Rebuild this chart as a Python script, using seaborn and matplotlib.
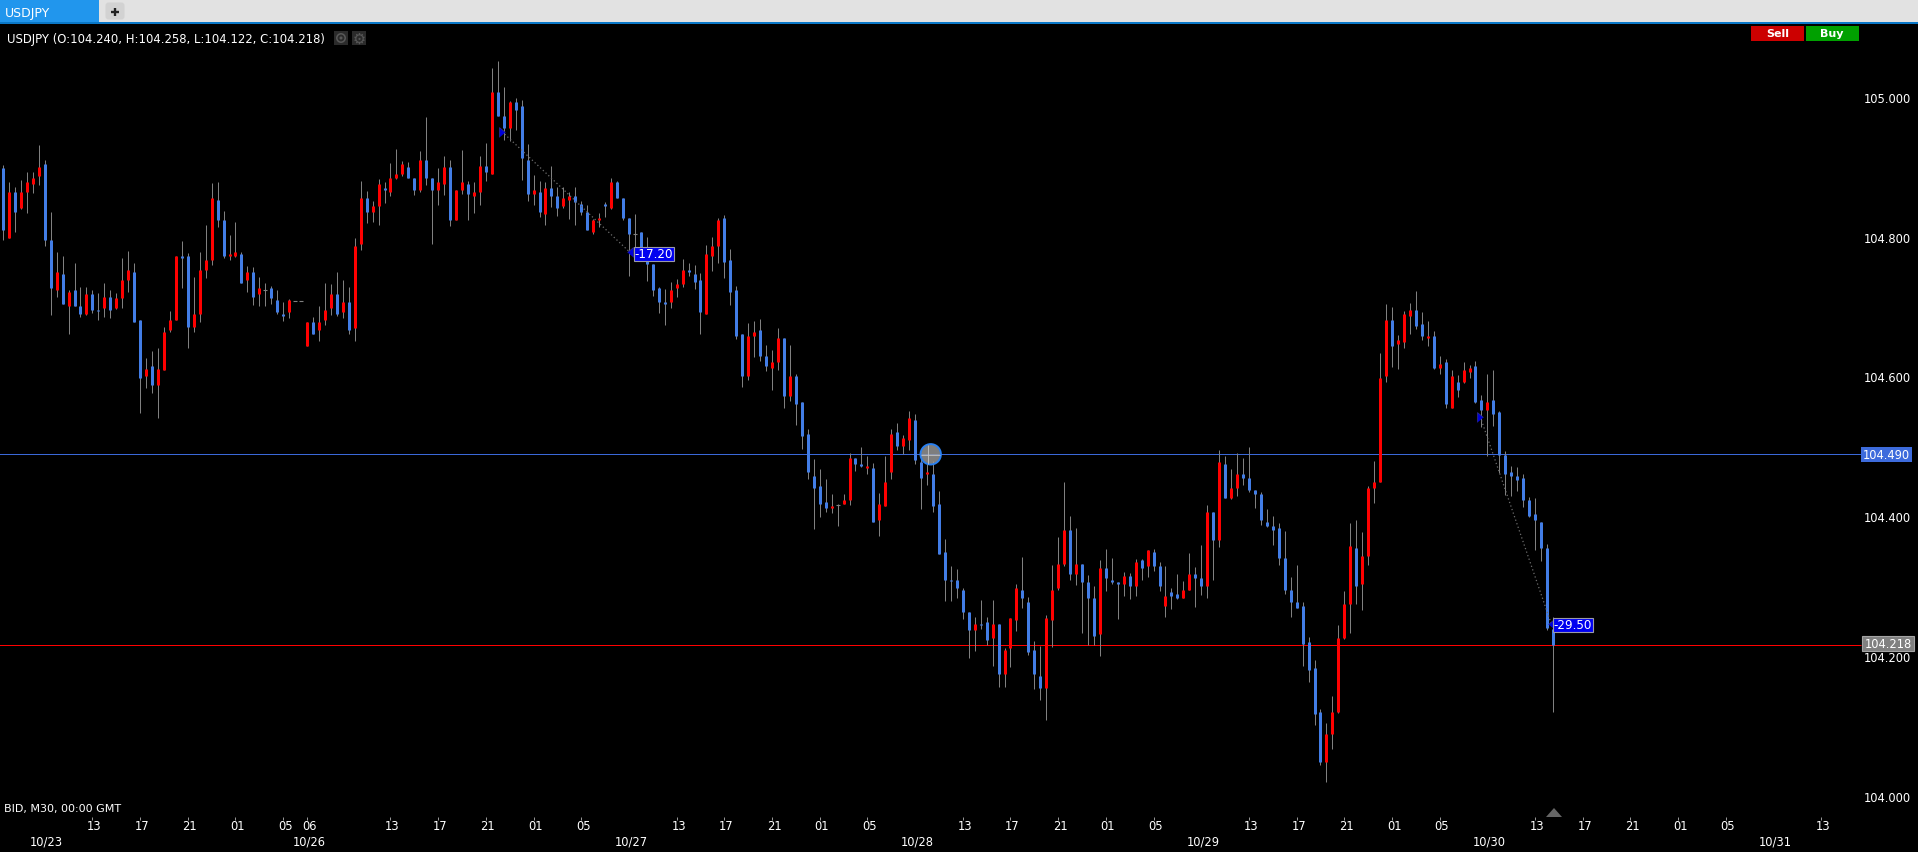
import matplotlib
matplotlib.use("Agg")
import matplotlib.pyplot as plt
from matplotlib.patches import Rectangle, Circle, Polygon, FancyBboxPatch
from matplotlib.transforms import ScaledTranslation
import numpy as np
import pandas as pd
import seaborn as sns

# Candles, 30 minute bars
opens = [
    104.900,104.799,104.865,104.842,104.865,104.877,104.888,104.905,104.797,104.725,
    104.748,104.702,104.725,104.702,104.691,104.719,104.696,104.699,104.716,104.699,
    104.714,104.739,104.751,104.682,104.602,104.616,104.590,104.611,104.668,104.682,
    104.774,104.774,104.673,104.691,104.754,104.768,104.854,104.825,104.774,104.774,
    104.777,104.739,104.751,104.719,104.726,104.728,104.711,104.691,104.694,104.710,
    104.710,104.645,104.679,104.668,104.682,104.699,104.719,104.694,104.708,104.671,
    104.791,104.857,104.837,104.845,104.871,104.865,104.885,104.891,104.902,104.885,
    104.868,104.911,104.885,104.868,104.877,104.902,104.825,104.868,104.877,104.860,
    104.865,104.903,104.891,105.009,104.974,104.957,104.994,104.989,104.911,104.863,
    104.865,104.834,104.871,104.860,104.845,104.854,104.860,104.848,104.837,104.808,
    104.825,104.848,104.843,104.880,104.857,104.828,104.806,104.808,104.782,104.762,
    104.728,104.708,104.708,104.728,104.734,104.754,104.748,104.740,104.691,104.774,
    104.788,104.828,104.768,104.725,104.662,104.602,104.659,104.668,104.631,104.614,
    104.622,104.657,104.574,104.602,104.565,104.519,104.459,104.445,104.422,104.413,
    104.418,104.419,104.425,104.485,104.476,104.471,104.471,104.396,104.416,104.465,
    104.522,104.502,104.511,104.539,104.479,104.462,104.462,104.419,104.350,104.310,
    104.310,104.296,104.265,104.239,104.247,104.250,104.227,104.247,104.176,104.213,
    104.253,104.296,104.279,104.210,104.173,104.156,104.253,104.299,104.333,104.382,
    104.319,104.333,104.308,104.285,104.233,104.328,104.310,104.308,104.305,104.316,
    104.302,104.339,104.330,104.350,104.330,104.273,104.293,104.290,104.285,104.296,
    104.319,104.313,104.302,104.408,104.368,104.476,104.428,104.442,104.462,104.456,
    104.439,104.433,104.393,104.388,104.385,104.342,104.296,104.279,104.273,104.222,
    104.184,104.121,104.050,104.090,104.121,104.227,104.276,104.356,104.305,104.345,
    104.442,104.451,104.602,104.682,104.648,104.651,104.688,104.697,104.677,104.657,
    104.660,104.614,104.622,104.557,104.594,104.594,104.608,104.617,104.568,104.554,
    104.568,104.551,104.489,104.465,104.459,104.456,104.425,104.405,104.393,104.356,
    104.240]
highs = [
    104.904,104.880,104.872,104.882,104.894,104.894,104.933,104.912,104.837,104.779,
    104.774,104.726,104.764,104.729,104.729,104.726,104.721,104.736,104.725,104.721,
    104.771,104.781,104.764,104.682,104.628,104.638,104.643,104.673,104.695,104.774,
    104.795,104.778,104.744,104.779,104.818,104.878,104.880,104.839,104.804,104.822,
    104.779,104.759,104.758,104.744,104.736,104.731,104.725,104.708,104.712,104.710,
    104.710,104.679,104.686,104.702,104.736,104.734,104.751,104.739,104.729,104.799,
    104.881,104.867,104.852,104.884,104.880,104.907,104.927,104.910,104.908,104.885,
    104.924,104.973,104.885,104.900,104.917,104.912,104.868,104.925,104.881,104.880,
    104.917,104.936,105.043,105.053,105.016,104.996,105.000,104.997,104.934,104.890,
    104.881,104.880,104.903,104.873,104.873,104.865,104.873,104.853,104.847,104.827,
    104.835,104.851,104.886,104.881,104.857,104.828,104.834,104.808,104.801,104.762,
    104.729,104.727,104.737,104.741,104.770,104.764,104.761,104.750,104.790,104.801,
    104.828,104.833,104.784,104.731,104.662,104.678,104.681,104.684,104.647,104.639,
    104.671,104.657,104.647,104.605,104.565,104.527,104.484,104.469,104.455,104.433,
    104.419,104.433,104.492,104.485,104.501,104.488,104.478,104.435,104.488,104.527,
    104.535,104.518,104.552,104.548,104.490,104.477,104.481,104.438,104.369,104.330,
    104.326,104.299,104.265,104.257,104.282,104.257,104.282,104.247,104.213,104.256,
    104.305,104.343,104.286,104.223,104.216,104.260,104.332,104.372,104.451,104.402,
    104.385,104.333,104.318,104.302,104.339,104.355,104.342,104.308,104.322,104.320,
    104.340,104.340,104.353,104.355,104.336,104.330,104.299,104.319,104.309,104.349,
    104.329,104.361,104.418,104.408,104.496,104.488,104.469,104.492,104.485,104.501,
    104.439,104.436,104.412,104.402,104.392,104.381,104.315,104.332,104.279,104.229,
    104.196,104.126,104.106,104.144,104.246,104.295,104.392,104.396,104.379,104.445,
    104.481,104.635,104.705,104.701,104.661,104.695,104.707,104.724,104.694,104.681,
    104.667,104.631,104.627,104.611,104.604,104.622,104.618,104.624,104.575,104.605,
    104.611,104.552,104.495,104.474,104.472,104.462,104.429,104.428,104.393,104.362,
    104.258]
lows = [
    104.797,104.799,104.808,104.841,104.835,104.864,104.875,104.788,104.689,104.716,
    104.705,104.663,104.702,104.686,104.689,104.692,104.682,104.686,104.685,104.698,
    104.699,104.722,104.679,104.549,104.585,104.578,104.542,104.611,104.665,104.682,
    104.728,104.642,104.665,104.679,104.742,104.761,104.815,104.771,104.768,104.772,
    104.736,104.722,104.704,104.702,104.702,104.705,104.691,104.681,104.685,104.710,
    104.710,104.645,104.662,104.652,104.675,104.689,104.688,104.685,104.662,104.652,
    104.782,104.821,104.822,104.818,104.850,104.860,104.884,104.888,104.885,104.861,
    104.865,104.875,104.791,104.847,104.861,104.817,104.825,104.862,104.825,104.835,
    104.847,104.881,104.891,104.974,104.940,104.938,104.954,104.883,104.853,104.847,
    104.830,104.818,104.844,104.831,104.843,104.827,104.818,104.833,104.811,104.805,
    104.815,104.830,104.841,104.857,104.825,104.745,104.778,104.773,104.738,104.717,
    104.692,104.675,104.699,104.715,104.729,104.745,104.727,104.662,104.691,104.752,
    104.764,104.742,104.704,104.655,104.586,104.596,104.629,104.624,104.609,104.582,
    104.611,104.556,104.566,104.532,104.498,104.455,104.383,104.401,104.408,104.406,
    104.388,104.419,104.418,104.466,104.472,104.462,104.393,104.373,104.416,104.455,
    104.496,104.491,104.496,104.476,104.412,104.446,104.408,104.348,104.280,104.280,
    104.285,104.255,104.199,104.209,104.240,104.218,104.187,104.157,104.157,104.186,
    104.237,104.270,104.203,104.154,104.139,104.110,104.215,104.296,104.330,104.310,
    104.303,104.235,104.218,104.218,104.202,104.295,104.305,104.255,104.288,104.283,
    104.288,104.310,104.315,104.323,104.295,104.257,104.269,104.283,104.285,104.296,
    104.272,104.289,104.285,104.310,104.358,104.428,104.426,104.431,104.446,104.436,
    104.413,104.389,104.386,104.361,104.332,104.290,104.257,104.270,104.187,104.164,
    104.103,104.046,104.021,104.069,104.120,104.226,104.235,104.276,104.267,104.332,
    104.421,104.451,104.594,104.615,104.612,104.642,104.662,104.670,104.654,104.645,
    104.612,104.605,104.557,104.557,104.572,104.592,104.599,104.564,104.529,104.488,
    104.531,104.463,104.432,104.431,104.438,104.415,104.401,104.353,104.338,104.239,
    104.122]
closes = [
    104.811,104.865,104.837,104.865,104.880,104.885,104.902,104.797,104.728,104.751,
    104.705,104.722,104.702,104.691,104.719,104.696,104.695,104.716,104.696,104.714,
    104.739,104.754,104.679,104.599,104.613,104.590,104.613,104.665,104.682,104.774,
    104.771,104.673,104.691,104.754,104.768,104.857,104.825,104.774,104.777,104.779,
    104.736,104.751,104.716,104.728,104.726,104.714,104.694,104.688,104.711,104.710,
    104.710,104.679,104.662,104.679,104.696,104.719,104.691,104.708,104.668,104.788,
    104.857,104.837,104.845,104.877,104.868,104.885,104.891,104.905,104.885,104.868,
    104.911,104.885,104.868,104.880,104.902,104.825,104.868,104.880,104.862,104.865,
    104.903,104.894,105.009,104.974,104.957,104.994,104.983,104.914,104.863,104.868,
    104.837,104.871,104.860,104.843,104.857,104.860,104.851,104.837,104.811,104.825,
    104.828,104.845,104.880,104.857,104.828,104.805,104.806,104.782,104.762,104.725,
    104.708,104.705,104.725,104.734,104.754,104.751,104.737,104.694,104.777,104.788,
    104.825,104.765,104.722,104.659,104.602,104.659,104.665,104.631,104.616,104.622,
    104.657,104.574,104.602,104.562,104.516,104.465,104.442,104.419,104.413,104.416,
    104.418,104.425,104.485,104.476,104.474,104.474,104.393,104.419,104.451,104.519,
    104.502,104.514,104.542,104.482,104.456,104.465,104.416,104.348,104.310,104.309,
    104.299,104.265,104.239,104.247,104.246,104.225,104.247,104.176,104.210,104.256,
    104.299,104.285,104.207,104.176,104.156,104.256,104.296,104.333,104.382,104.319,
    104.333,104.308,104.285,104.230,104.328,104.313,104.308,104.305,104.316,104.302,
    104.336,104.328,104.353,104.330,104.302,104.288,104.288,104.285,104.296,104.319,
    104.313,104.302,104.408,104.368,104.479,104.428,104.442,104.462,104.456,104.439,
    104.433,104.396,104.388,104.382,104.342,104.296,104.279,104.270,104.219,104.182,
    104.119,104.050,104.090,104.121,104.227,104.276,104.359,104.302,104.345,104.442,
    104.451,104.599,104.682,104.645,104.654,104.691,104.697,104.674,104.660,104.660,
    104.614,104.619,104.562,104.602,104.582,104.611,104.614,104.565,104.554,104.565,
    104.548,104.489,104.462,104.459,104.453,104.425,104.402,104.396,104.356,104.242,
    104.218]

# Axis labels
price_ticks = [104.0, 104.2, 104.4, 104.6, 104.8, 105.0]
price_labels = ["104.000", "104.200", "104.400", "104.600", "104.800", "105.000"]
hour_bars = [15, 23, 31, 39, 47, 51, 65, 73, 81, 89, 97, 113, 121, 129, 137, 145,
             161, 169, 177, 185, 193, 209, 217, 225, 233, 241, 257, 265, 273, 281, 289, 305]
hour_labels = ["13", "17", "21", "01", "05", "06", "13", "17", "21", "01", "05",
               "13", "17", "21", "01", "05", "13", "17", "21", "01", "05",
               "13", "17", "21", "01", "05", "13", "17", "21", "01", "05", "13"]
date_bars = [7, 51, 105, 153, 201, 249, 297]
date_labels = ["10/23", "10/26", "10/27", "10/28", "10/29", "10/30", "10/31"]

# Horizontal levels and the two closed trades
level_prices = [104.490, 104.218]
level_colors = ["#3a68d8", "#ff0000"]
trade_start_bar = [83.7, 247.8]
trade_start_price = [104.952, 104.544]
trade_end_bar = [105.2, 259.7]
trade_end_price = [104.779, 104.248]
trade_results = ["-17.20", "-29.50"]

BLUE = "#427de6"
RED = "#ff0000"
WICK = "#808080"
WIDTH, HEIGHT = 1918, 853
BAR_PX, BAR0_PX = 6 - 1 / 26, 2.98   # bar spacing on the screen
PX_PER_UNIT, Y104_PX = 699.0, 798.0
FONT = 8.3

sns.set_theme(style="dark", rc={"axes.facecolor": "black", "figure.facecolor": "black",
                                "axes.grid": False, "lines.solid_capstyle": "butt"})
plt.rcParams["font.family"] = ["DejaVu Sans"]

bars = pd.DataFrame({"bar": np.arange(len(opens)), "open": opens, "high": highs,
                     "low": lows, "close": closes})
bars["side"] = np.where(bars["close"] > bars["open"], "up", "down")

wicks = bars.melt(id_vars=["bar"], value_vars=["high", "low"], value_name="price")
bodies = bars.melt(id_vars=["bar", "side"], value_vars=["open", "close"], value_name="price")
flat = bars[bars["open"] == bars["close"]]

fig = plt.figure(figsize=(WIDTH / 100, HEIGHT / 100), dpi=100, facecolor="black")
ax = fig.add_axes([0, (HEIGHT - 818) / HEIGHT, 1, (818 - 24) / HEIGHT])

# Price levels sit under the candles
for price, col in zip(level_prices, level_colors):
    level = pd.DataFrame({"bar": [-1, (1861 - BAR0_PX) / BAR_PX], "price": [price, price]})
    sns.lineplot(data=level, x="bar", y="price", color=col, linewidth=0.72, legend=False, ax=ax, zorder=1)

sns.lineplot(data=wicks, x="bar", y="price", units="bar", estimator=None, color=WICK,
             linewidth=0.72, legend=False, ax=ax, zorder=2)
sns.lineplot(data=bodies, x="bar", y="price", units="bar", estimator=None, hue="side",
             palette={"up": RED, "down": BLUE}, linewidth=2.16, legend=False, ax=ax, zorder=3)
sns.scatterplot(data=flat, x="bar", y="close", marker="_", color=WICK, s=9, linewidth=0.8,
                legend=False, ax=ax, zorder=3)

# Trade arrows
for i in range(2):
    trade = pd.DataFrame({"bar": [trade_start_bar[i], trade_end_bar[i]],
                          "price": [trade_start_price[i], trade_end_price[i]]})
    sns.lineplot(data=trade, x="bar", y="price", color="#6e6e6e", linewidth=0.9,
                 linestyle=(0, (1, 2)), legend=False, ax=ax, zorder=4)
sns.scatterplot(x=trade_start_bar, y=trade_start_price, marker=[(-0.6, -1), (-0.6, 1), (0.6, 0)],
                color="#0000d8", edgecolor="#303090", linewidth=0.5, s=50, legend=False, ax=ax, zorder=5)
sns.scatterplot(x=trade_end_bar, y=trade_end_price, marker=[(0.6, -1), (0.6, 1), (-0.6, 0)],
                color="#0000d8", edgecolor="#303090", linewidth=0.5, s=50, legend=False, ax=ax, zorder=5)

ax.set_xlim(-BAR0_PX / BAR_PX, (WIDTH - BAR0_PX) / BAR_PX)
ax.set_ylim(104 - (818 - Y104_PX) / PX_PER_UNIT, 104 + (Y104_PX - 24) / PX_PER_UNIT)
ax.set(xlabel="", ylabel="")
sns.despine(ax=ax, left=True, bottom=True)

ax.yaxis.tick_right()
ax.set_yticks(price_ticks, price_labels)
ax.tick_params(axis="y", length=0, pad=-5, labelsize=FONT, labelcolor="white")
up_one = ScaledTranslation(0, 1.2 / 100, fig.dpi_scale_trans)
for lab in ax.get_yticklabels():
    lab.set_ha("right")
    lab.set_transform(lab.get_transform() + up_one)

ax.xaxis.remove_overlapping_locs = False
ax.set_xticks(hour_bars, hour_labels)
ax.set_xticks(date_bars, date_labels, minor=True)
ax.tick_params(axis="x", which="major", bottom=True, direction="out", length=2.2, width=0.7,
               color="#9a9a9a", pad=-0.7, labelsize=FONT, labelcolor="white")
ax.tick_params(axis="x", which="minor", bottom=True, length=0, pad=12.4,
               labelsize=FONT, labelcolor="white")
# labels sit a little to the right of their ticks
shift = ScaledTranslation(2 / 100, 0, fig.dpi_scale_trans)
for lab in ax.get_xticklabels() + ax.get_xticklabels(minor=True):
    lab.set_transform(lab.get_transform() + shift)

# Window furniture, drawn in screen pixels
ui = fig.add_axes([0, 0, 1, 1], facecolor="none")
ui.set_xlim(0, WIDTH)
ui.set_ylim(HEIGHT - 1, -1)
ui.axis("off")

def box(x0, y0, x1, y1, face, edge="none", lw=0.0, z=2):
    ui.add_patch(Rectangle((x0, y0), x1 - x0, y1 - y0, facecolor=face, edgecolor=edge, linewidth=lw, zorder=z))

box(0, -1, WIDTH, 0, "#cdb26c")
box(0, 0, WIDTH, 22, "#e2e2e2")
box(0, 22, WIDTH, 24, "#0a78c8")
box(0, 0, 99, 22, "#2196ed", z=3)
ui.text(5, 12.5, "USDJPY", color="white", fontsize=9.0, va="center", zorder=4)
ui.add_patch(FancyBboxPatch((108, 5), 14, 12, boxstyle="round,pad=2.5,rounding_size=3",
                            facecolor="#d2d2d2", edgecolor="none", zorder=3))
ui.plot([115, 115], [7.5, 15.5], color="#222222", linewidth=1.7, zorder=4)
ui.plot([111, 119], [11.5, 11.5], color="#222222", linewidth=1.7, zorder=4)

ui.text(7, 38, "USDJPY (O:104.240, H:104.258, L:104.122, C:104.218)", color="white",
        fontsize=8.42, va="center", zorder=4)
box(334, 31, 348, 45, "#2b2b2b")
box(352, 31, 366, 45, "#2b2b2b")
ui.add_patch(Circle((341, 38), 4.2, facecolor="none", edgecolor="#585858", linewidth=1.1, zorder=4))
ui.add_patch(Circle((341, 38), 1.5, facecolor="#585858", edgecolor="none", zorder=4))
ui.text(359, 38, "\u2699", color="#585858", fontsize=10.5, ha="center", va="center", zorder=4)

box(1751, 26, 1804, 41, "#cc0000")
box(1806, 26, 1859, 41, "#00a000")
ui.text(1777.5, 33, "Sell", color="white", fontsize=8, fontweight="bold", ha="center", va="center", zorder=4)
ui.text(1832, 33, "Buy", color="white", fontsize=8, fontweight="bold", ha="center", va="center", zorder=4)

# Price boxes on the right
box(1861, 447, 1912, 462, "#3d6bdc")
ui.text(1886.5, 454.5, "104.490", color="white", fontsize=FONT, ha="center", va="center", zorder=4)
box(1862, 636, 1914, 651, "#808080", edge="#a4a4a4", lw=0.8)
ui.text(1888, 643.5, "104.218", color="white", fontsize=FONT, ha="center", va="center", zorder=4)

# Trade result tags
for (x0, y0), res in zip([(634, 248), (1553, 619)], trade_results):
    box(x0, y0 - 1, x0 + 40, y0 + 12.5, "#0000f0", edge="#9a9aa8", lw=0.8)
    ui.text(x0 + 20, y0 + 5.7, res, color="white", fontsize=8.6, ha="center", va="center", zorder=4)

# Handle on the blue level and the bar marker at the bottom
ui.add_patch(Circle((930.7, 454.3), 10.2, facecolor=(0.62, 0.62, 0.62, 0.8), edgecolor="#2a80f0",
                    linewidth=1.4, zorder=5))
ui.plot([927.5, 927.5], [445, 464], color="#c4c4c4", linewidth=0.6, zorder=6)
ui.plot([921, 940], [454.5, 454.5], color="#c4c4c4", linewidth=0.6, zorder=6)
ui.add_patch(Polygon([(1546, 817), (1562, 817), (1554, 808)], closed=True, facecolor="#666666",
                     edgecolor="none", zorder=4))
ui.text(4, 808, "BID, M30, 00:00 GMT", color="white", fontsize=8.0, va="center", zorder=4)

fig.savefig("out.png", dpi=100, facecolor="black")
